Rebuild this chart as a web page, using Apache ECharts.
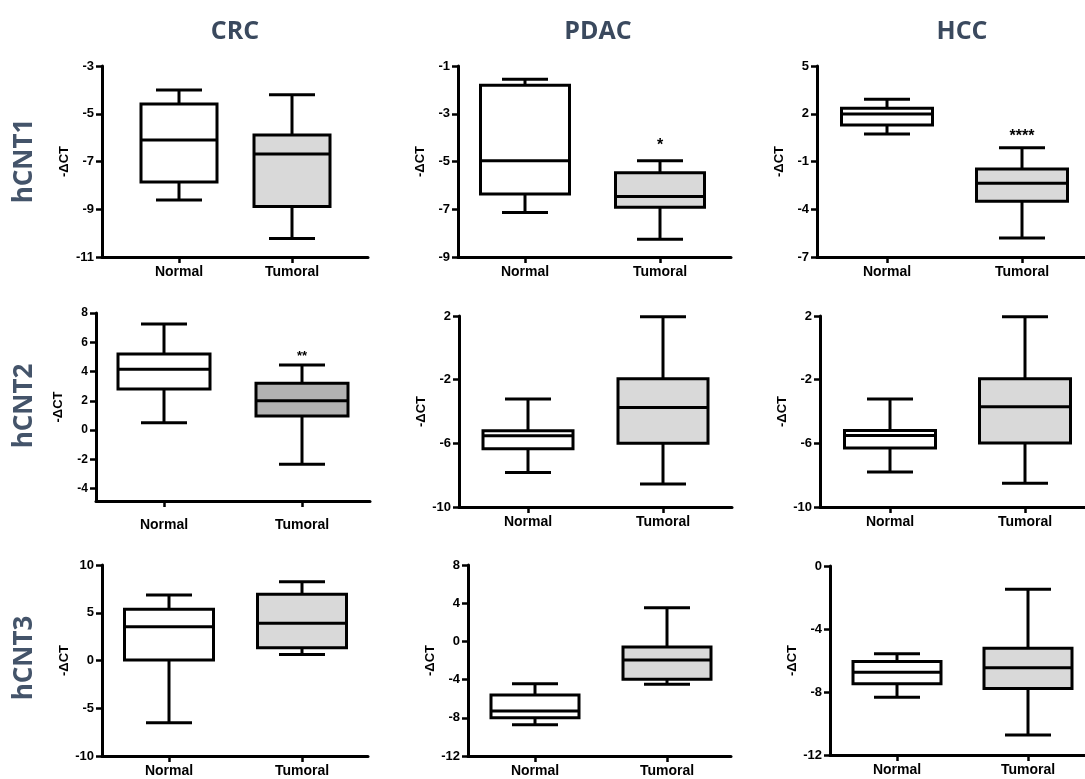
<!DOCTYPE html>
<html><head><meta charset="utf-8">
<script src="https://cdn.jsdelivr.net/npm/echarts@6/dist/echarts.min.js"></script>
<style>html,body{margin:0;padding:0;background:#fff}#c{width:1085px;height:779px}</style>
</head><body><div id="c"></div>
<script>
// ---------- DATA ----------
const groups = ['Normal', 'Tumoral'];
const cancers = ['CRC', 'PDAC', 'HCC'];
const genes = ['hCNT1', 'hCNT2', 'hCNT3'];
const yName = '-ΔCT';
// box values: [min, Q1, median, Q3, max]
const crc1Normal  = [-8.61, -7.86, -6.10, -4.59, -4.00];
const crc1Tumoral = [-10.23, -8.89, -6.69, -5.89, -4.20];
const pdac1Normal  = [-7.14, -6.36, -4.97, -1.81, -1.56];
const pdac1Tumoral = [-8.26, -6.92, -6.47, -5.47, -4.97];
const hcc1Normal  = [0.73, 1.29, 1.98, 2.34, 2.91];
const hcc1Tumoral = [-5.80, -3.50, -2.37, -1.47, -0.13];
const crc2Normal  = [0.50, 2.80, 4.16, 5.20, 7.25];
const crc2Tumoral = [-2.33, 0.96, 2.00, 3.20, 4.44];
const pdac2Normal  = [-7.83, -6.34, -5.52, -5.21, -3.21];
const pdac2Tumoral = [-8.56, -6.00, -3.75, -1.95, 1.96];
const hcc2Normal  = [-7.80, -6.30, -5.50, -5.19, -3.21];
const hcc2Tumoral = [-8.50, -5.98, -3.70, -1.95, 1.96];
const crc3Normal  = [-6.51, 0.05, 3.54, 5.36, 6.86];
const crc3Tumoral = [0.64, 1.34, 3.89, 6.93, 8.25];
const pdac3Normal  = [-8.72, -7.99, -7.29, -5.61, -4.43];
const pdac3Tumoral = [-4.49, -3.97, -1.95, -0.59, 3.53];
const hcc3Normal  = [-8.34, -7.47, -6.75, -6.07, -5.57];
const hcc3Tumoral = [-10.73, -7.77, -6.46, -5.23, -1.48];
// y tick labels per panel
const crc1Ticks = [-11, -9, -7, -5, -3];
const pdac1Ticks = [-9, -7, -5, -3, -1];
const hcc1Ticks = [-7, -4, -1, 2, 5];
const crc2Ticks = [-4, -2, 0, 2, 4, 6, 8];
const pdac2Ticks = [-10, -6, -2, 2];
const hcc2Ticks = [-10, -6, -2, 2];
const crc3Ticks = [-10, -5, 0, 5, 10];
const pdac3Ticks = [-12, -8, -4, 0, 4, 8];
const hcc3Ticks = [-12, -8, -4, 0];
// y axis ranges
const crc1Range = [-11, -3];
const pdac1Range = [-9, -1];
const hcc1Range = [-7, 5];
const crc2Range = [-4.85, 8];
const pdac2Range = [-10, 2];
const hcc2Range = [-10, 2];
const crc3Range = [-10, 10];
const pdac3Range = [-12, 8];
const hcc3Range = [-12, 0];
// significance marks on Tumoral
const crc1Star = '', pdac1Star = '*', hcc1Star = '****';
const crc2Star = '**', pdac2Star = '', hcc2Star = '';
const crc3Star = '', pdac3Star = '', hcc3Star = '';

const panelData = [
  {n: crc1Normal, t: crc1Tumoral, ticks: crc1Ticks, range: crc1Range, star: crc1Star},
  {n: pdac1Normal, t: pdac1Tumoral, ticks: pdac1Ticks, range: pdac1Range, star: pdac1Star},
  {n: hcc1Normal, t: hcc1Tumoral, ticks: hcc1Ticks, range: hcc1Range, star: hcc1Star},
  {n: crc2Normal, t: crc2Tumoral, ticks: crc2Ticks, range: crc2Range, star: crc2Star},
  {n: pdac2Normal, t: pdac2Tumoral, ticks: pdac2Ticks, range: pdac2Range, star: pdac2Star},
  {n: hcc2Normal, t: hcc2Tumoral, ticks: hcc2Ticks, range: hcc2Range, star: hcc2Star},
  {n: crc3Normal, t: crc3Tumoral, ticks: crc3Ticks, range: crc3Range, star: crc3Star},
  {n: pdac3Normal, t: pdac3Tumoral, ticks: pdac3Ticks, range: pdac3Range, star: pdac3Star},
  {n: hcc3Normal, t: hcc3Tumoral, ticks: hcc3Ticks, range: hcc3Range, star: hcc3Star}
];

// ---------- LAYOUT / STYLE ----------
const LIGHT = '#d9d9d9', DARK = '#b2b2b2';
const layout = [
  {L: 102, T: 66, B: 257, R: 368, c: [179, 292], bw: 76, fill: LIGHT, lm: 8, fs: 13, starFs: 16, starGap: 15},
  {L: 458, T: 66, B: 257, R: 731, c: [525, 660], bw: 89, fill: LIGHT, lm: 8, fs: 13, starFs: 16, starGap: 15},
  {L: 817, T: 66, B: 257, R: 1085, c: [887, 1022], bw: 91, fill: LIGHT, lm: 8, fs: 13, starFs: 16, starGap: 11},
  {L: 96, T: 313, B: 501, R: 370, c: [164, 302], bw: 92, fill: DARK, lm: 17, fs: 12, starFs: 13, starGap: 9},
  {L: 459, T: 316, B: 507, R: 732, c: [528, 663], bw: 90, fill: LIGHT, lm: 8, fs: 13, starFs: 16, starGap: 12},
  {L: 820, T: 316, B: 507, R: 1085, c: [890, 1025], bw: 91, fill: LIGHT, lm: 8, fs: 13, starFs: 16, starGap: 12},
  {L: 102, T: 565, B: 756, R: 368, c: [169, 302], bw: 89, fill: LIGHT, lm: 8, fs: 13, starFs: 16, starGap: 12},
  {L: 468, T: 565, B: 756, R: 731, c: [535, 667], bw: 88, fill: LIGHT, lm: 8, fs: 13, starFs: 16, starGap: 12},
  {L: 830, T: 566, B: 755, R: 1085, c: [897, 1028], bw: 88, fill: LIGHT, lm: 8, fs: 13, starFs: 16, starGap: 12}
];
const LW = 3, CAP = 46;
const TICKFONT = '"Liberation Sans", Arial, sans-serif';
const HEADFONT = '"Open Sans", sans-serif';

function makeRender(lay, star) {
  return function (params, api) {
    const x = api.value(0);
    const pts = [1, 2, 3, 4, 5].map(i => api.coord([x, api.value(i)]));
    const cx = pts[0][0];
    const yMin = pts[0][1], yQ1 = pts[1][1], yMed = pts[2][1], yQ3 = pts[3][1], yMax = pts[4][1];
    const hw = lay.bw / 2, cw = CAP / 2;
    const ls = {stroke: '#000', lineWidth: LW};
    const children = [
      {type: 'line', shape: {x1: cx, y1: yMin, x2: cx, y2: yQ1}, style: ls},
      {type: 'line', shape: {x1: cx, y1: yQ3, x2: cx, y2: yMax}, style: ls},
      {type: 'line', shape: {x1: cx - cw, y1: yMin, x2: cx + cw, y2: yMin}, style: ls},
      {type: 'line', shape: {x1: cx - cw, y1: yMax, x2: cx + cw, y2: yMax}, style: ls},
      {type: 'rect', shape: {x: cx - hw, y: yQ3, width: lay.bw, height: yQ1 - yQ3},
        style: {fill: params.dataIndex === 1 ? lay.fill : '#ffffff', stroke: '#000', lineWidth: LW}},
      {type: 'line', shape: {x1: cx - hw, y1: yMed, x2: cx + hw, y2: yMed}, style: ls}
    ];
    if (params.dataIndex === 1 && star) {
      children.push({type: 'text', x: cx, y: yMax - lay.starGap,
        style: {text: star, fill: '#000', font: 'bold ' + lay.starFs + 'px ' + TICKFONT,
          textAlign: 'center', align: 'center', textVerticalAlign: 'middle', verticalAlign: 'middle'}});
    }
    return {type: 'group', children};
  };
}

const grid = [], xAxis = [], yAxis = [], series = [];
panelData.forEach((p, i) => {
  const lay = layout[i];
  const ppu = lay.c[1] - lay.c[0];
  grid.push({left: lay.L, top: lay.T, width: lay.R - lay.L, height: lay.B - lay.T, containLabel: false});
  xAxis.push({
    gridIndex: i, type: 'value',
    min: 1 - (lay.c[0] - lay.L) / ppu, max: 2 + (lay.R - lay.c[1]) / ppu,
    splitLine: {show: false},
    axisLine: {show: true, onZero: false, lineStyle: {color: '#000', width: LW}},
    axisTick: {show: true, customValues: [1, 2], length: 6, lineStyle: {color: '#000', width: 2.5}},
    axisLabel: {customValues: [1, 2], formatter: v => groups[Math.round(v) - 1],
      color: '#000', fontWeight: 'bold', fontSize: 14, fontFamily: TICKFONT, margin: lay.lm}
  });
  yAxis.push({
    gridIndex: i, type: 'value', min: p.range[0], max: p.range[1],
    name: yName, nameLocation: 'middle', nameGap: 31,
    nameTextStyle: {color: '#000', fontWeight: 'bold', fontSize: 13, fontFamily: TICKFONT},
    splitLine: {show: false},
    axisLine: {show: true, onZero: false, lineStyle: {color: '#000', width: LW}},
    axisTick: {show: true, customValues: p.ticks, length: 6, lineStyle: {color: '#000', width: 2.5}},
    axisLabel: {customValues: p.ticks, color: '#000', fontWeight: 'bold', fontSize: lay.fs,
      fontFamily: TICKFONT, margin: 8}
  });
  series.push({
    type: 'custom', xAxisIndex: i, yAxisIndex: i, clip: false,
    encode: {x: 0, y: [1, 2, 3, 4, 5]},
    renderItem: makeRender(lay, p.star),
    data: [[1].concat(p.n), [2].concat(p.t)]
  });
});

const headX = [235, 598, 962];
const rowY = [161, 406, 658];
const graphic = [];
cancers.forEach((c, i) => graphic.push({type: 'text', x: headX[i], y: 32,
  style: {text: c, fill: '#3a495e', font: 'bold 25px ' + HEADFONT,
    textAlign: 'center', align: 'center', textVerticalAlign: 'middle', verticalAlign: 'middle'}}));
genes.forEach((g, i) => graphic.push({type: 'text', x: 25, y: rowY[i], rotation: Math.PI / 2,
  style: {text: g, fill: '#44546a', font: 'bold 26px ' + HEADFONT,
    textAlign: 'center', align: 'center', textVerticalAlign: 'middle', verticalAlign: 'middle'}}));

const chart = echarts.init(document.getElementById('c'), null, {renderer: 'canvas'});
chart.setOption({animation: false, backgroundColor: '#fff', grid, xAxis, yAxis, series, graphic});
</script></body></html>
